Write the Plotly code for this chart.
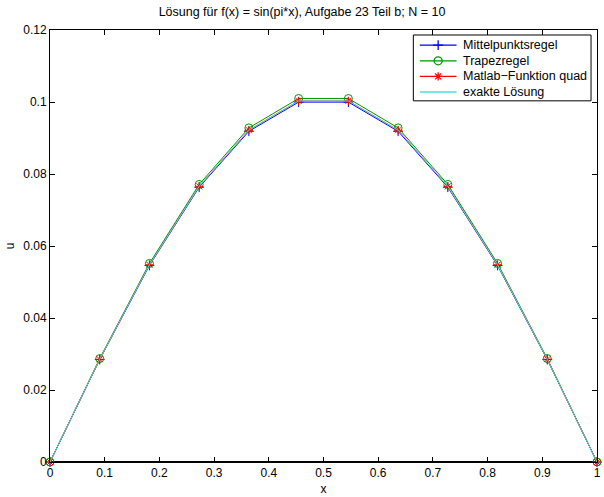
import plotly.graph_objects as go

# Gitterpunkte x_i = i/11 (N = 10 innere Punkte)
x = [0, 0.0909, 0.1818, 0.2727, 0.3636, 0.4545, 0.5455, 0.6364, 0.7273, 0.8182, 0.9091, 1]

u_mittelpunkt = [0, 0.02846, 0.05460, 0.07633, 0.09187, 0.09997,
                 0.09997, 0.09187, 0.07633, 0.05460, 0.02846, 0]
u_trapez = [0, 0.02874, 0.05516, 0.07710, 0.09280, 0.10098,
            0.10098, 0.09280, 0.07710, 0.05516, 0.02874, 0]
u_quad = [0, 0.02855, 0.05478, 0.07657, 0.09216, 0.10029,
          0.10029, 0.09216, 0.07657, 0.05478, 0.02855, 0]
u_exakt = [0, 0.02855, 0.05478, 0.07657, 0.09216, 0.10029,
           0.10029, 0.09216, 0.07657, 0.05478, 0.02855, 0]

x_ticks = [0, 0.1, 0.2, 0.3, 0.4, 0.5, 0.6, 0.7, 0.8, 0.9, 1]
x_ticktext = ["0", "0.1", "0.2", "0.3", "0.4", "0.5", "0.6", "0.7", "0.8", "0.9", "1"]
y_ticks = [0, 0.02, 0.04, 0.06, 0.08, 0.1, 0.12]
y_ticktext = ["0", "0.02", "0.04", "0.06", "0.08", "0.1", "0.12"]

FONT = "Liberation Sans, Arial, Helvetica, sans-serif"
BLUE, GREEN, RED, CYAN = "rgb(0,0,255)", "rgb(0,150,0)", "rgb(255,0,0)", "rgb(80,220,220)"

W, H = 604, 497
ML, MR, MT, MB = 50, 3, 30, 34

# Serien: (Name, Werte, Farbe, Markersymbol, Markergröße)
series = [
    ("Mittelpunktsregel", u_mittelpunkt, BLUE, "cross-thin", 7),
    ("Trapezregel", u_trapez, GREEN, "circle-open", 8),
    ("Matlab\u2212Funktion quad", u_quad, RED, "asterisk-open", 7),
    ("exakte Lösung", u_exakt, CYAN, None, 0),
]

fig = go.Figure()
for name, vals, col, sym, size in series:
    if sym:
        fig.add_trace(go.Scatter(
            x=x, y=vals, name=name, mode="lines+markers", cliponaxis=False,
            line=dict(color=col, width=1),
            marker=dict(symbol=sym, size=size, color=col, line=dict(color=col, width=1)),
            showlegend=False, xaxis="x", yaxis="y",
        ))
    else:
        fig.add_trace(go.Scatter(
            x=x, y=vals, name=name, mode="lines",
            line=dict(color=col, width=1), showlegend=False, xaxis="x", yaxis="y",
        ))

# Legende im Pixelraster des Zeichenbereichs (Overlay-Achsen x2/y2)
LEG_L, LEG_R, LEG_T, LEG_B = 416, 595, 35, 101
ROW0, ROW_DY = 45.2, 15.65
SAMPLE_L, SAMPLE_R, TEXT_X = 422.5, 459.5, 464

shapes = [
    dict(type="rect", xref="x2", yref="y2", x0=LEG_L, x1=LEG_R, y0=LEG_T, y1=LEG_B,
         line=dict(color="black", width=1), fillcolor="white", layer="below"),
    # kräftigere untere Achsenlinie
    dict(type="line", xref="paper", yref="paper", x0=0, x1=1, y0=0, y1=0,
         line=dict(color="black", width=2), layer="below"),
]
annotations = []
for i, (name, vals, col, sym, size) in enumerate(series):
    yy = ROW0 + i * ROW_DY
    fig.add_trace(go.Scatter(
        x=[SAMPLE_L, SAMPLE_R], y=[yy, yy], mode="lines",
        line=dict(color=col, width=1.3), showlegend=False, hoverinfo="skip",
        xaxis="x2", yaxis="y2",
    ))
    if sym:
        fig.add_trace(go.Scatter(
            x=[(SAMPLE_L + SAMPLE_R) / 2], y=[yy], mode="markers",
            marker=dict(symbol=sym, size=size, color=col, line=dict(color=col, width=1.3)),
            showlegend=False, hoverinfo="skip", xaxis="x2", yaxis="y2",
        ))
    annotations.append(dict(
        x=TEXT_X, y=yy, xref="x2", yref="y2", text=name, showarrow=False,
        xanchor="left", yanchor="middle",
        font=dict(family=FONT, size=12.5, color="black"),
    ))

axis_common = dict(
    showline=True, linecolor="black", linewidth=1, mirror="allticks",
    ticks="inside", ticklen=5, tickcolor="black", tickwidth=1,
    showgrid=False, zeroline=False, ticklabeloverflow="allow",
    tickfont=dict(family=FONT, size=12, color="black"),
)

fig.update_layout(
    width=W, height=H,
    margin=dict(l=ML, r=MR, t=MT, b=MB),
    paper_bgcolor="white", plot_bgcolor="white",
    font=dict(family=FONT, size=12, color="black"),
    title=dict(text="Lösung für f(x) = sin(pi*x), Aufgabe 23 Teil b; N = 10",
               x=0.5, xanchor="center", y=0.985, yanchor="top",
               font=dict(family=FONT, size=12.5, color="black")),
    xaxis=dict(range=[0, 1], tickvals=x_ticks, ticktext=x_ticktext,
               title=dict(text="x", standoff=5, font=dict(family=FONT, size=12)),
               **axis_common),
    yaxis=dict(range=[0, 0.12], tickvals=y_ticks, ticktext=y_ticktext,
               title=dict(text="u", standoff=6, font=dict(family=FONT, size=12)),
               **axis_common),
    xaxis2=dict(overlaying="x", range=[ML, W - MR], visible=False, fixedrange=True),
    yaxis2=dict(overlaying="y", range=[H - MB, MT], visible=False, fixedrange=True),
    shapes=shapes,
    annotations=annotations,
    showlegend=False,
)

fig.write_html("out.html")
